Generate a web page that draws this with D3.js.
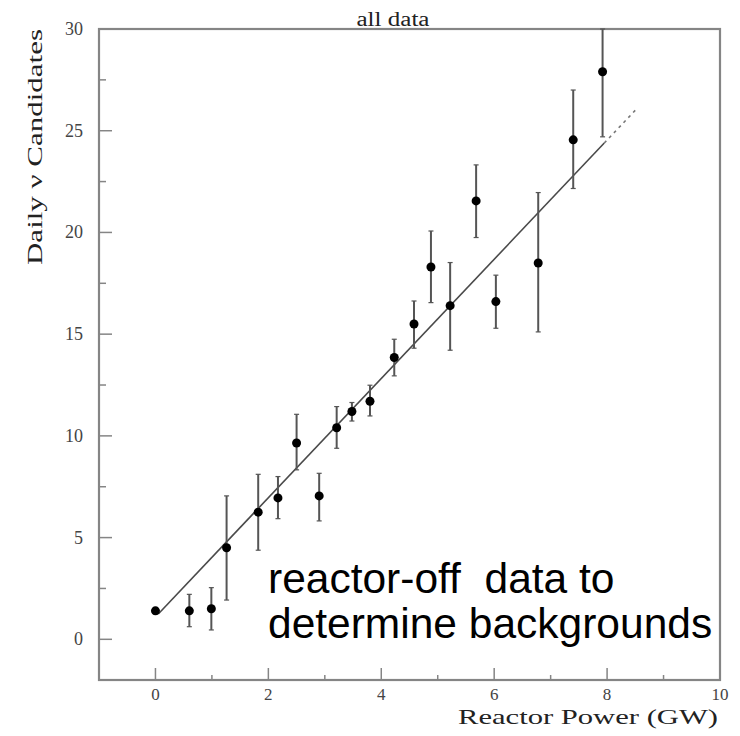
<!DOCTYPE html>
<html>
<head>
<meta charset="utf-8">
<script src="https://cdn.jsdelivr.net/npm/d3@7"></script>
<style>
  body { margin: 0; background: #fff; }
  svg { display: block; }
  .serif { font-family: "Liberation Serif", "DejaVu Serif", serif; }
</style>
</head>
<body>
<script>
const width = 740;
const height = 736;

// reactor power (GW), daily candidates, and the error bar ends
const power = [0.0, 0.6, 0.99, 1.26, 1.82, 2.17, 2.5, 2.9, 3.21, 3.48, 3.8, 4.23, 4.58, 4.88, 5.22, 5.68, 6.03, 6.78, 7.4, 7.92];
const rate = [1.4, 1.4, 1.5, 4.5, 6.25, 6.95, 9.65, 7.05, 10.4, 11.2, 11.7, 13.85, 15.5, 18.3, 16.4, 21.55, 16.6, 18.5, 24.55, 27.9];
const rateLow = [1.25, 0.62, 0.46, 1.93, 4.38, 5.93, 8.33, 5.82, 9.39, 10.73, 10.98, 12.95, 14.31, 16.55, 14.21, 19.75, 15.29, 15.11, 22.16, 24.7];
const rateHigh = [1.55, 2.21, 2.54, 7.05, 8.11, 8.0, 11.06, 8.16, 11.44, 11.64, 12.49, 14.75, 16.63, 20.07, 18.52, 23.32, 17.9, 21.96, 27.0, 30.0];

// straight line fit, solid over the data and dashed beyond it
const fitIntercept = 1.1;
const fitSlope = 2.93;
const fitSolid = [0.05, 7.95];
const fitDashed = [7.95, 8.5];

const xTicks = [0, 2, 4, 6, 8, 10];
const xMinorTicks = [1, 3, 5, 7, 9];
const yTicks = [0, 5, 10, 15, 20, 25, 30];
const yMinorTicks = [2.5, 7.5, 12.5, 17.5, 22.5, 27.5];

const margin = { top: 29, right: 20, bottom: 56, left: 99 };

const x = d3.scaleLinear().domain([-1, 10]).range([margin.left, width - margin.right]);
const y = d3.scaleLinear().domain([-2, 30]).range([height - margin.bottom, margin.top]);

const svg = d3.select("body")
    .append("svg")
    .attr("width", width)
    .attr("height", height);

const axisColor = "#858585";
const barColor = "#555";

// frame
svg.append("rect")
    .attr("x", x(-1))
    .attr("y", y(30))
    .attr("width", x(10) - x(-1))
    .attr("height", y(-2) - y(30))
    .attr("fill", "none")
    .attr("stroke", axisColor)
    .attr("stroke-width", 2.2);

// ticks point into the frame
const xAxis = svg.append("g").attr("transform", `translate(0, ${y(-2)})`);
xAxis.selectAll(".major")
    .data(xTicks.filter((d) => d < 10))
    .enter()
    .append("line")
    .attr("x1", (d) => x(d))
    .attr("x2", (d) => x(d))
    .attr("y1", 0)
    .attr("y2", -12)
    .attr("stroke", axisColor)
    .attr("stroke-width", 1.5);
xAxis.selectAll(".minor")
    .data(xMinorTicks)
    .enter()
    .append("line")
    .attr("x1", (d) => x(d))
    .attr("x2", (d) => x(d))
    .attr("y1", 0)
    .attr("y2", -5)
    .attr("stroke", axisColor)
    .attr("stroke-width", 1.5);
xAxis.selectAll(".label")
    .data(xTicks)
    .enter()
    .append("text")
    .attr("class", "serif")
    .attr("x", (d) => x(d))
    .attr("y", 20)
    .attr("text-anchor", "middle")
    .attr("font-size", 17)
    .attr("fill", "#444")
    .text((d) => d);

const yAxis = svg.append("g").attr("transform", `translate(${x(-1)}, 0)`);
yAxis.selectAll(".major")
    .data(yTicks.filter((d) => d < 30))
    .enter()
    .append("line")
    .attr("x1", 0)
    .attr("x2", 13)
    .attr("y1", (d) => y(d))
    .attr("y2", (d) => y(d))
    .attr("stroke", axisColor)
    .attr("stroke-width", 1.5);
yAxis.selectAll(".minor")
    .data(yMinorTicks)
    .enter()
    .append("line")
    .attr("x1", 0)
    .attr("x2", 7)
    .attr("y1", (d) => y(d))
    .attr("y2", (d) => y(d))
    .attr("stroke", axisColor)
    .attr("stroke-width", 1.5);
yAxis.selectAll(".label")
    .data(yTicks)
    .enter()
    .append("text")
    .attr("class", "serif")
    .attr("x", -16)
    .attr("y", (d) => y(d) + 6)
    .attr("text-anchor", "end")
    .attr("font-size", 18)
    .attr("fill", "#444")
    .text((d) => d);

// fit line
const fitLine = d3.line()
    .x((d) => x(d))
    .y((d) => y(fitIntercept + fitSlope * d));

svg.append("path")
    .attr("d", fitLine(fitSolid))
    .attr("fill", "none")
    .attr("stroke", "#4a4a4a")
    .attr("stroke-width", 1.6);
svg.append("path")
    .attr("d", fitLine(fitDashed))
    .attr("fill", "none")
    .attr("stroke", "#777")
    .attr("stroke-width", 1.6)
    .attr("stroke-dasharray", "3,4");

// error bars with small caps
const points = power.map((p, i) => ({ p: p, r: rate[i], lo: rateLow[i], hi: rateHigh[i] }));

const bars = svg.selectAll(".bar")
    .data(points)
    .enter()
    .append("g")
    .attr("class", "bar");
bars.append("line")
    .attr("x1", (d) => x(d.p))
    .attr("x2", (d) => x(d.p))
    .attr("y1", (d) => y(d.lo))
    .attr("y2", (d) => y(d.hi))
    .attr("stroke", barColor)
    .attr("stroke-width", 2);
bars.selectAll(".cap")
    .data((d) => [d.lo, d.hi].map((v) => ({ p: d.p, v: v })))
    .enter()
    .append("line")
    .attr("x1", (d) => x(d.p) - 2.5)
    .attr("x2", (d) => x(d.p) + 2.5)
    .attr("y1", (d) => y(d.v))
    .attr("y2", (d) => y(d.v))
    .attr("stroke", barColor)
    .attr("stroke-width", 1.2);

svg.selectAll(".dot")
    .data(points)
    .enter()
    .append("circle")
    .attr("cx", (d) => x(d.p))
    .attr("cy", (d) => y(d.r))
    .attr("r", 4.5)
    .attr("fill", "#000");

// titles
svg.append("text")
    .attr("class", "serif")
    .attr("x", 393)
    .attr("y", 26)
    .attr("text-anchor", "middle")
    .attr("font-size", 20)
    .attr("fill", "#222")
    .attr("textLength", 73)
    .attr("lengthAdjust", "spacingAndGlyphs")
    .text("all data");

svg.append("text")
    .attr("class", "serif")
    .attr("transform", `translate(42, ${margin.top}) rotate(-90)`)
    .attr("text-anchor", "end")
    .attr("font-size", 22)
    .attr("fill", "#222")
    .attr("textLength", 236)
    .attr("lengthAdjust", "spacingAndGlyphs")
    .text("Daily ν Candidates");

svg.append("text")
    .attr("class", "serif")
    .attr("x", 718)
    .attr("y", 724)
    .attr("text-anchor", "end")
    .attr("font-size", 21)
    .attr("fill", "#222")
    .attr("textLength", 260)
    .attr("lengthAdjust", "spacingAndGlyphs")
    .text("Reactor Power (GW)");

// slide annotation
const note = svg.append("text")
    .attr("font-family", "'Liberation Sans', Arial, sans-serif")
    .attr("font-size", 42.5)
    .attr("fill", "#000")
    .style("white-space", "pre");
note.append("tspan").attr("x", 268).attr("y", 593).text("reactor-off  data to");
note.append("tspan").attr("x", 268).attr("y", 638).text("determine backgrounds");
</script>
</body>
</html>
